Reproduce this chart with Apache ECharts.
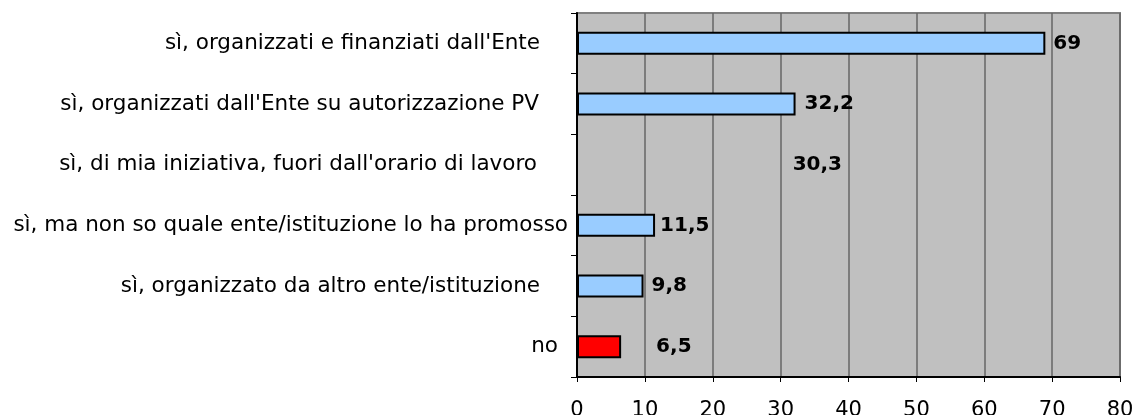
<!DOCTYPE html>
<html>
<head>
<meta charset="utf-8">
<script src="https://cdn.jsdelivr.net/npm/echarts@6/dist/echarts.min.js"></script>
<style>
html,body{margin:0;padding:0;background:#fff;}
#c{width:1139px;height:415px;}
</style>
</head>
<body>
<div id="c"></div>
<script>
const categories = [
  "sì, organizzati e finanziati dall'Ente",
  "sì, organizzati dall'Ente su autorizzazione PV",
  "sì, di mia iniziativa, fuori dall'orario di lavoro",
  "sì, ma non so quale ente/istituzione lo ha promosso",
  "sì, organizzato da altro ente/istituzione",
  "no"
];
const values = [69, 32.2, 30.3, 11.5, 9.8, 6.5];
const valueLabels = ["69", "32,2", "30,3", "11,5", "9,8", "6,5"];
const xTicks = [0, 10, 20, 30, 40, 50, 60, 70, 80];

// styling per bar (appearance only)
const barFill = ['#99CCFF', '#99CCFF', 'transparent', '#99CCFF', '#99CCFF', '#FF0000'];
const barBorder = [2, 2, 0, 2, 2, 2];
const labelDist = [8, 9, 10, 5, 8, 35];
const catPad = [28, 29, 31, 0, 28, 10];

const chart = echarts.init(document.getElementById('c'), null, {renderer: 'canvas'});

const rich = {};
catPad.forEach((p, i) => {
  rich['p' + i] = {fontFamily: 'DejaVu Sans', fontSize: 21.5, color: '#000', padding: [0, p, 0, 0]};
});

chart.setOption({
  animation: false,
  backgroundColor: '#ffffff',
  grid: {
    left: 577, right: 19, top: 13, bottom: 38,
    outerBoundsMode: 'none', containLabel: false,
    show: true, backgroundColor: '#C0C0C0', borderColor: '#808080', borderWidth: 2
  },
  xAxis: {
    type: 'value', min: xTicks[0], max: xTicks[xTicks.length - 1], interval: 10,
    axisLine: {show: true, lineStyle: {color: '#000', width: 2}},
    axisTick: {show: true, length: 5, lineStyle: {color: '#000', width: 1}},
    splitLine: {show: true, lineStyle: {color: '#666', width: 1.5}},
    axisLabel: {fontFamily: 'DejaVu Sans', fontSize: 21, color: '#000', margin: 23}
  },
  yAxis: {
    type: 'category', inverse: true, data: categories,
    axisLine: {show: true, lineStyle: {color: '#000', width: 2}},
    axisTick: {show: true, length: 6, lineStyle: {color: '#000', width: 1}},
    axisLabel: {
      margin: 9,
      formatter: (v, i) => '{p' + i + '|' + v + '}',
      rich: rich
    }
  },
  series: [{
    type: 'bar',
    barWidth: 23,
    data: values.map((v, i) => ({
      value: v,
      itemStyle: {color: barFill[i], borderColor: '#000', borderWidth: barBorder[i]},
      label: {distance: labelDist[i]}
    })),
    label: {
      show: true, position: 'right',
      fontFamily: 'DejaVu Sans', fontWeight: 'bold', fontSize: 20, color: '#000',
      formatter: p => valueLabels[p.dataIndex]
    }
  }]
});
</script>
</body>
</html>
